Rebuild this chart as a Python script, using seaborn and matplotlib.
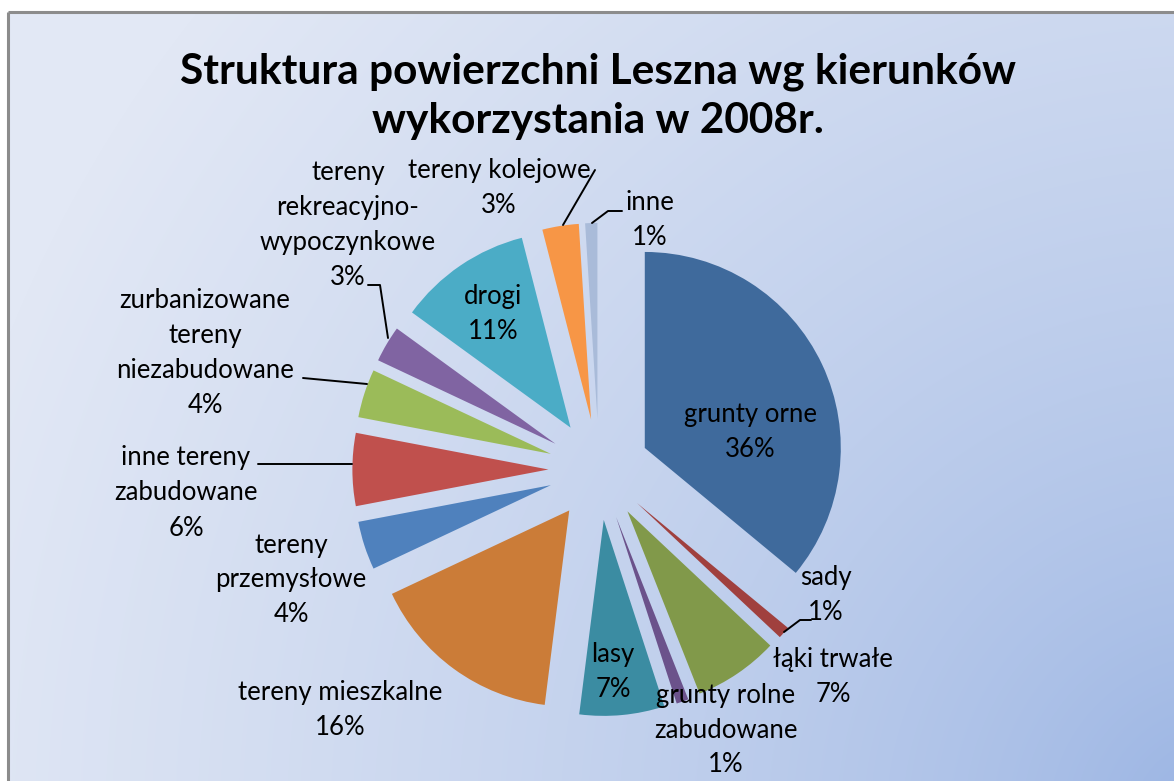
import numpy as np
import matplotlib
matplotlib.use("Agg")
import matplotlib.pyplot as plt
import seaborn as sns

# Land-use structure of Leszno, 2008 (percent of total area)
categories = [
    "grunty orne", "sady", "łąki trwałe", "grunty rolne\nzabudowane", "lasy",
    "tereny mieszkalne", "tereny\nprzemysłowe", "inne tereny\nzabudowane",
    "zurbanizowane\ntereny\nniezabudowane", "tereny\nrekreacyjno-\nwypoczynkowe",
    "drogi", "tereny kolejowe", "inne",
]
shares = [36, 1, 7, 1, 7, 16, 4, 6, 4, 3, 11, 3, 1]

slice_colors = [
    "#3F6A9C", "#A0403E", "#81994A", "#6B528B", "#3B8CA2", "#CB7C38",
    "#4F81BD", "#C0504D", "#9BBB59", "#8064A2", "#4BACC6", "#F79646", "#A9BBD9",
]

W, H = 1174, 781
sns.set_theme(style="white")
plt.rcParams["font.family"] = ["Lato", "DejaVu Sans"]

fig = plt.figure(figsize=(W / 100, H / 100), dpi=100)
fig.patch.set_facecolor("white")

# Background panel: radial blue gradient, darkest toward the lower right corner
bg = fig.add_axes([0, 0, 1, 1])
bg.set_axis_off()
gx, gy = np.meshgrid(np.arange(W), np.arange(H))
dist = np.hypot(gx - (W + 40), gy - (H + 40))
t = np.clip(dist / 1300.0, 0, 1) ** 0.7
light = np.array([0xE2, 0xE8, 0xF5]) / 255.0
dark = np.array([0x96, 0xB1, 0xE2]) / 255.0
img = dark[None, None, :] + (light - dark)[None, None, :] * t[..., None]
img[:12, :, :] = 1.0
img[:, :8, :] = 1.0
bg.imshow(img, extent=(0, W, H, 0), aspect="auto", interpolation="bilinear")
bg.set_xlim(0, W)
bg.set_ylim(H, 0)
bg.plot([8, W], [12, 12], color="#8C8C8C", lw=2.2, solid_capstyle="butt")
bg.plot([8, 8], [12, H], color="#8C8C8C", lw=2.2, solid_capstyle="butt")

# Pie axes in pixel units (y measured upward)
ax = fig.add_axes([0, 0, 1, 1])
ax.patch.set_alpha(0)
cx, cy, r = 599, H - 469.5, 196
ax.pie(shares, colors=slice_colors, startangle=90, counterclock=False,
       radius=r, center=(cx, cy), explode=[50.6] * len(shares),
       wedgeprops=dict(linewidth=0), frame=False)
ax.set_xlim(0, W)
ax.set_ylim(0, H)
ax.set_axis_off()

def Y(v):
    return H - v

# Data labels: category name and share, one text per line, 35 px apart
label_pos = [
    (750, 432), (826, 595), (833, 677), (726, 730), (613, 672), (340, 710),
    (291, 580), (186, 493), (205, 353), (348, 225), (493, 314), (499, 188),
    (650, 220),
]
line_gap = 35
for name, val, (px, py) in zip(categories, shares, label_pos):
    lines = name.split("\n") + [f"{val}%"]
    n = len(lines)
    for i, txt in enumerate(lines):
        ly = py + (i - (n - 1) / 2) * line_gap
        ax.text(px, Y(ly), txt, ha="center", va="center",
                fontsize=18.5, color="black")

leaders = [
    [(784, 632), (800, 620), (811, 620)],
    [(258, 464), (352, 464)],
    [(303, 378), (367, 384)],
    [(368, 285), (380, 285), (388, 338)],
    [(595, 170), (563, 225)],
    [(592, 223), (608, 211), (622, 211)],
]
for pts in leaders:
    xs = [p[0] for p in pts]
    ys = [Y(p[1]) for p in pts]
    ax.plot(xs, ys, color="black", lw=1.4)

ax.text(598, Y(96), "Struktura powierzchni Leszna wg kierunków\nwykorzystania w 2008r.",
        ha="center", va="center", fontsize=30.5, fontweight="bold",
        linespacing=1.36, color="black")

fig.savefig("out.png", dpi=100)
